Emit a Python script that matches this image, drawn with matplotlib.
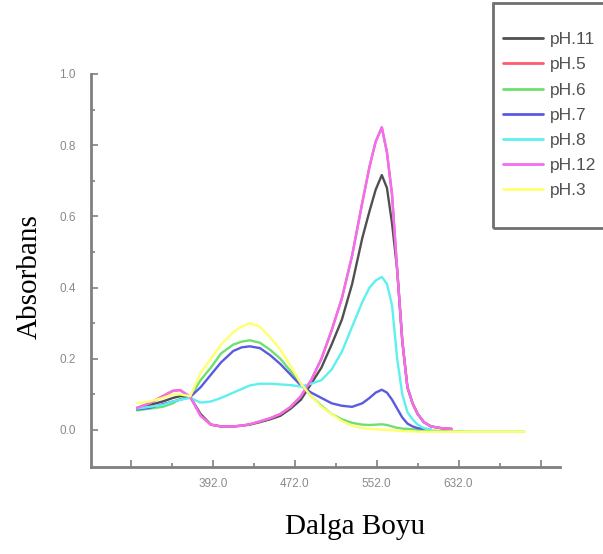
import numpy as np
import matplotlib
matplotlib.use("Agg")
import matplotlib.pyplot as plt
from matplotlib.ticker import FixedLocator, FixedFormatter
from matplotlib.patches import Rectangle

nan = np.nan

# Wavelength grid (nm)
wavelength = [318, 330, 343, 353, 360, 370, 380, 390, 400, 412, 420, 428, 438, 448,
              458, 468, 478, 488, 498, 508, 518, 528, 538, 545, 551, 557, 562, 567,
              572, 577, 582, 587, 592, 598, 605, 615, 625, 650, 675, 696]

ph11 = [0.062, 0.070, 0.080, 0.090, 0.095, 0.092, 0.045, 0.015, 0.010, 0.010, 0.012, 0.015,
        0.022, 0.030, 0.040, 0.060, 0.085, 0.130, 0.175, 0.240, 0.310, 0.410, 0.540, 0.615,
        0.675, 0.716, 0.680, 0.580, 0.450, 0.250, 0.120, 0.075, 0.045, 0.022, 0.010, 0.005,
        0.003, nan, nan, nan]

ph12 = [0.062, 0.075, 0.095, 0.110, 0.112, 0.093, 0.040, 0.015, 0.010, 0.010, 0.012, 0.016,
        0.024, 0.033, 0.045, 0.065, 0.095, 0.140, 0.200, 0.280, 0.370, 0.490, 0.640, 0.740,
        0.810, 0.850, 0.780, 0.660, 0.450, 0.250, 0.120, 0.075, 0.045, 0.022, 0.010, 0.005,
        0.003, nan, nan, nan]

ph5 = list(ph12)

ph6 = [0.055, 0.060, 0.065, 0.075, 0.088, 0.093, 0.140, 0.175, 0.215, 0.240, 0.248, 0.252,
       0.245, 0.225, 0.200, 0.165, 0.130, 0.095, 0.068, 0.045, 0.030, 0.020, 0.015, 0.014,
       0.015, 0.016, 0.014, 0.010, 0.006, 0.004, 0.003, 0.002, 0.001, 0.000, -0.002, -0.003,
       -0.004, -0.005, -0.005, -0.005]

ph7 = [0.058, 0.062, 0.072, 0.080, 0.085, 0.093, 0.120, 0.155, 0.190, 0.222, 0.232, 0.235,
       0.230, 0.210, 0.185, 0.155, 0.125, 0.105, 0.090, 0.075, 0.068, 0.065, 0.075, 0.090,
       0.105, 0.113, 0.105, 0.085, 0.060, 0.035, 0.018, 0.010, 0.005, 0.003, nan, nan,
       nan, nan, nan, nan]

ph8 = [0.060, 0.065, 0.070, 0.080, 0.085, 0.090, 0.077, 0.080, 0.090, 0.105, 0.115, 0.125,
       0.130, 0.130, 0.128, 0.126, 0.122, 0.130, 0.140, 0.170, 0.220, 0.290, 0.360, 0.400,
       0.420, 0.430, 0.410, 0.350, 0.200, 0.100, 0.050, 0.030, 0.015, 0.005, 0.002, nan,
       nan, nan, nan, nan]

ph3 = [0.075, 0.080, 0.090, 0.100, 0.100, 0.095, 0.160, 0.200, 0.240, 0.275, 0.290, 0.300,
       0.290, 0.260, 0.225, 0.180, 0.130, 0.095, 0.065, 0.045, 0.025, 0.012, 0.005, 0.003,
       0.002, 0.001, 0.000, -0.001, -0.002, -0.003, -0.004, -0.004, -0.005, -0.005, -0.005,
       -0.005, -0.005, -0.005, -0.005, -0.005]

labels = ["pH.11", "pH.5", "pH.6", "pH.7", "pH.8", "pH.12", "pH.3"]
series = [ph11, ph5, ph6, ph7, ph8, ph12, ph3]
colors = ["#505050", "#ff5a6e", "#6ee06e", "#5a5ae0", "#5ef0f0", "#f06ef0", "#ffff70"]

x_major = [312, 392, 472, 552, 632, 712]
x_labels = ["", "392.0", "472.0", "552.0", "632.0", ""]
x_minor = [352, 432, 512, 592, 672]
y_major = [0.0, 0.2, 0.4, 0.6, 0.8, 1.0]
y_minor = [0.1, 0.3, 0.5, 0.7, 0.9]

fig = plt.figure(figsize=(6.03, 5.54), dpi=100)
ax = fig.add_axes([91/603, 1-467/554, (560-91)/603, (467-74)/554])

for lab, ys, c in zip(labels, series, colors):
    ax.plot(wavelength, ys, color=c, lw=1.7, label=lab, solid_capstyle="round")

ax.set_xlim(273, 731)
ax.set_ylim(-0.104, 1.0)

for s in ["top", "right"]:
    ax.spines[s].set_visible(False)
for s in ["left", "bottom"]:
    ax.spines[s].set_color("#808080")
    ax.spines[s].set_linewidth(2)

ax.xaxis.set_major_locator(FixedLocator(x_major))
ax.xaxis.set_major_formatter(FixedFormatter(x_labels))
ax.xaxis.set_minor_locator(FixedLocator(x_minor))
ax.yaxis.set_major_locator(FixedLocator(y_major))
ax.yaxis.set_major_formatter(FixedFormatter([f"{v:.1f}" for v in y_major]))
ax.yaxis.set_minor_locator(FixedLocator(y_minor))

ax.tick_params(which="major", direction="in", length=5, width=1.2, color="#808080",
               labelsize=8.5, labelcolor="#8a8a8a")
ax.tick_params(which="minor", direction="in", length=3, width=1.2, color="#808080")
ax.tick_params(axis="y", which="major", pad=11)
ax.tick_params(axis="x", which="major", pad=8)
for t in ax.get_xticklabels() + ax.get_yticklabels():
    t.set_family("Liberation Sans")

fig.text(30/603, 1-277/554, "Absorbans", rotation=90, ha="center", va="center",
         family="Liberation Serif", fontsize=21)
fig.text(355/603, 1-527/554, "Dalga Boyu", ha="center", va="center",
         family="Liberation Serif", fontsize=21)

# Legend box (drawn separately so the padding can differ per side)
fig.patches.append(Rectangle((493/603, 1-228/554), (620-493)/603, (228-3)/554,
                             transform=fig.transFigure, facecolor="none",
                             edgecolor="#707070", linewidth=2, zorder=3))

leg = ax.legend(loc="upper left", bbox_to_anchor=(503/603, 1-32/554),
                bbox_transform=fig.transFigure, frameon=False,
                borderpad=0, labelspacing=0.58, handlelength=2.3, handletextpad=0.4,
                prop={"family": "Liberation Sans", "size": 12.5}, borderaxespad=0)
for t in leg.get_texts():
    t.set_color("#505050")
for h in leg.legend_handles:
    h.set_linewidth(2)

fig.savefig("out.png", dpi=100)
